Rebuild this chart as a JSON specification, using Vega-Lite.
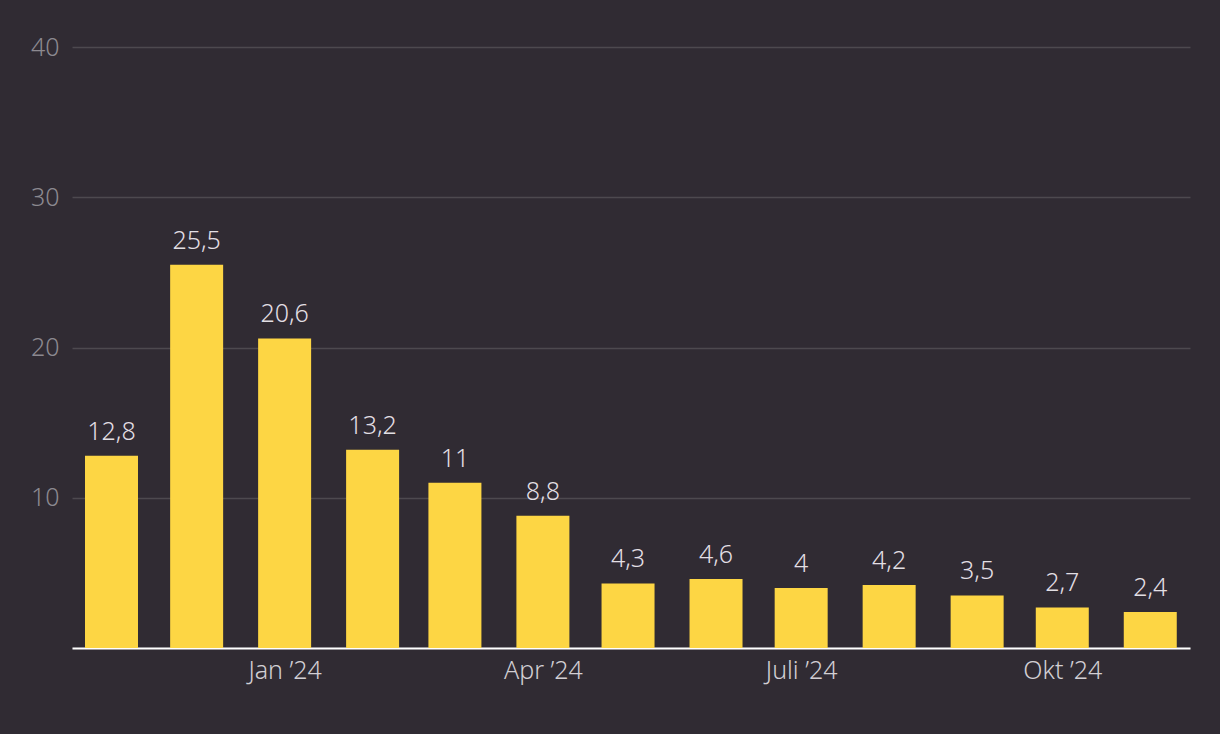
{
  "$schema": "https://vega.github.io/schema/vega-lite/v6.json",
  "width": 1118,
  "height": 601,
  "autosize": "none",
  "padding": {"left": 72, "top": 47, "right": 30, "bottom": 86},
  "background": "#302b33",
  "config": {
    "view": {"stroke": null},
    "font": "Noto Sans",
    "locale": {"number": {"decimal": ",", "thousands": ".", "grouping": [3], "currency": ["", " €"]}}
  },
  "data": {
    "values": [
      {"date": "2023-11-01", "value": 12.8},
      {"date": "2023-12-01", "value": 25.5},
      {"date": "2024-01-01", "value": 20.6},
      {"date": "2024-02-01", "value": 13.2},
      {"date": "2024-03-01", "value": 11},
      {"date": "2024-04-01", "value": 8.8},
      {"date": "2024-05-01", "value": 4.3},
      {"date": "2024-06-01", "value": 4.6},
      {"date": "2024-07-01", "value": 4},
      {"date": "2024-08-01", "value": 4.2},
      {"date": "2024-09-01", "value": 3.5},
      {"date": "2024-10-01", "value": 2.7},
      {"date": "2024-11-01", "value": 2.4}
    ]
  },
  "encoding": {
    "x": {
      "field": "date",
      "type": "temporal",
      "scale": {
        "type": "utc",
        "padding": 0,
        "domain": [
          {"year": 2023, "month": 10, "date": 18, "hours": 2, "utc": true},
          {"year": 2024, "month": 11, "date": 15, "utc": true}
        ]
      },
      "axis": {
        "title": null,
        "values": [
          {"year": 2024, "month": 1, "date": 1, "utc": true},
          {"year": 2024, "month": 4, "date": 1, "utc": true},
          {"year": 2024, "month": 7, "date": 1, "utc": true},
          {"year": 2024, "month": 10, "date": 1, "utc": true}
        ],
        "labelExpr": "['Jan','Feb','Mär','Apr','Mai','Juni','Juli','Aug','Sep','Okt','Nov','Dez'][utcmonth(datum.value)] + ' ’' + utcFormat(datum.value, '%y')",
        "ticks": false,
        "grid": false,
        "domainColor": "#ffffff",
        "domainWidth": 2,
        "labelColor": "#d2cfd4",
        "labelFontSize": 25,
        "labelFontWeight": 300,
        "labelPadding": 10,
        "labelFlush": false
      }
    },
    "y": {
      "field": "value",
      "type": "quantitative",
      "scale": {"domain": [0, 40]},
      "axis": {
        "title": null,
        "values": [0, 10, 20, 30, 40],
        "domain": false,
        "ticks": false,
        "grid": true,
        "gridColor": "#4d494f",
        "gridWidth": 1.5,
        "labelColor": "#8c8990",
        "labelFontSize": 25,
        "labelFontWeight": 300,
        "labelPadding": 13,
        "labelExpr": "datum.value === 0 ? '' : datum.label"
      }
    }
  },
  "layer": [
    {
      "mark": {"type": "bar", "width": 53, "color": "#fdd644"}
    },
    {
      "mark": {"type": "text", "baseline": "bottom", "dy": -11, "fontSize": 25, "fontWeight": 300, "color": "#e2dfe4"},
      "encoding": {
        "text": {"field": "value", "type": "quantitative", "format": ".1~f"}
      }
    }
  ]
}
